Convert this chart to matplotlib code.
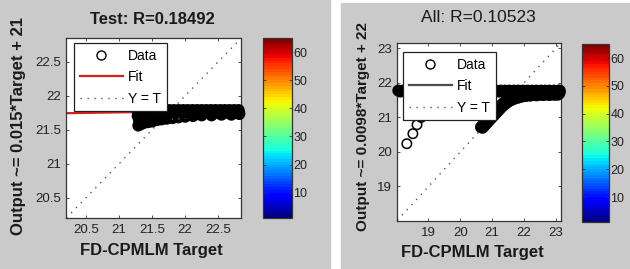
import numpy as np
import matplotlib
matplotlib.use('Agg')
import matplotlib.pyplot as plt
from matplotlib.patches import Rectangle
from matplotlib.lines import Line2D
import matplotlib.colors as mcolors
import matplotlib.cm as cm

plt.rcParams['font.family'] = ['Liberation Sans', 'DejaVu Sans']

# ---- Test panel data ----
test_target = [21.27, 21.34, 21.41, 21.48, 21.55, 21.62, 21.69, 21.76, 21.83, 21.90, 21.97, 22.04,
               22.11, 22.18, 22.25, 22.32, 22.39, 22.46, 22.53, 22.60, 22.67, 22.74, 22.81,
               21.30, 21.37, 21.44, 21.51, 21.58, 21.65, 21.72, 21.79, 21.86, 21.93, 22.00, 22.07,
               22.14, 22.21, 22.28, 22.35, 22.42, 22.49, 22.56, 22.63, 22.70, 22.77, 22.82,
               21.28, 21.35, 21.42, 21.49, 21.56, 21.63,
               21.30, 21.37, 21.45, 21.53,
               21.29, 21.33, 21.38, 21.44, 21.50, 21.57, 21.64, 21.72, 21.81, 21.90, 22.00, 22.12,
               22.25, 22.40, 22.55, 22.70, 22.82]
test_output = [21.79, 21.79, 21.79, 21.79, 21.79, 21.79, 21.79, 21.79, 21.79, 21.79, 21.79, 21.79,
               21.79, 21.79, 21.79, 21.79, 21.79, 21.79, 21.79, 21.79, 21.79, 21.79, 21.79,
               21.74, 21.74, 21.75, 21.75, 21.75, 21.75, 21.75, 21.75, 21.75, 21.75, 21.75, 21.75,
               21.75, 21.75, 21.75, 21.75, 21.75, 21.75, 21.75, 21.75, 21.75, 21.75, 21.75,
               21.70, 21.69, 21.70, 21.70, 21.71, 21.71,
               21.64, 21.65, 21.66, 21.67,
               21.56, 21.58, 21.60, 21.61, 21.62, 21.64, 21.65, 21.66, 21.67, 21.68, 21.69, 21.70,
               21.71, 21.71, 21.72, 21.72, 21.73]
test_fit = (0.015, 21.44)
test_lim = (20.2, 22.85)
test_ticks = [20.5, 21, 21.5, 22, 22.5]
test_ticklabels = ['20.5', '21', '21.5', '22', '22.5']

# ---- All panel data: dense band + the sparse tail at lower left ----
all_target = [18.05, 18.19, 18.33, 18.47, 18.61, 18.75, 18.89, 19.03, 19.17, 19.31, 19.45, 19.59,
              19.73, 19.87, 20.01, 20.15, 20.29, 20.43, 20.57, 20.71, 20.85, 20.99, 21.13, 21.27,
              21.41, 21.55, 21.69, 21.83, 21.97, 22.11, 22.25, 22.39, 22.53, 22.67, 22.81, 22.95,
              23.09, 23.13,
              18.12, 18.26, 18.40, 18.54, 18.68, 18.82, 18.96, 19.10, 19.24, 19.38, 19.52, 19.66,
              19.80, 19.94, 20.08, 20.22, 20.36, 20.50, 20.64, 20.78, 20.92, 21.06, 21.20, 21.34,
              21.48, 21.62, 21.76, 21.90, 22.04, 22.18, 22.32, 22.46, 22.60, 22.74, 22.88, 23.02,
              23.13,
              21.60, 21.74, 21.88, 22.02, 22.16, 22.30, 22.44, 22.58, 22.72, 22.86, 23.00, 23.12,
              21.67, 21.81, 21.95, 22.09, 22.23, 22.37, 22.51, 22.65, 22.79, 22.93, 23.07,
              20.65, 20.71, 20.77, 20.83, 20.89, 20.95, 21.01, 21.07, 21.13, 21.19, 21.25, 21.31,
              21.38, 21.45, 21.53, 21.62, 21.72,
              20.70, 20.76, 20.82, 20.88, 20.94, 21.00, 21.06, 21.12, 21.18, 21.24, 21.30, 21.37,
              21.44, 21.52, 21.60, 21.70, 21.81, 21.93, 22.06, 22.20, 22.40, 22.60, 22.80, 23.00]
all_output = [21.78, 21.78, 21.78, 21.78, 21.78, 21.78, 21.78, 21.78, 21.78, 21.78, 21.78, 21.78,
              21.78, 21.78, 21.78, 21.78, 21.78, 21.78, 21.78, 21.78, 21.78, 21.78, 21.78, 21.78,
              21.78, 21.78, 21.78, 21.78, 21.78, 21.78, 21.78, 21.78, 21.78, 21.78, 21.78, 21.78,
              21.78, 21.78,
              21.75, 21.75, 21.75, 21.75, 21.75, 21.75, 21.75, 21.75, 21.75, 21.75, 21.75, 21.75,
              21.75, 21.75, 21.75, 21.75, 21.75, 21.75, 21.75, 21.75, 21.75, 21.75, 21.75, 21.75,
              21.75, 21.75, 21.75, 21.75, 21.75, 21.75, 21.75, 21.75, 21.75, 21.75, 21.75, 21.75,
              21.75,
              21.70, 21.70, 21.70, 21.70, 21.70, 21.70, 21.70, 21.70, 21.70, 21.70, 21.70, 21.70,
              21.66, 21.66, 21.66, 21.66, 21.66, 21.66, 21.66, 21.66, 21.66, 21.66, 21.66,
              20.72, 20.78, 20.84, 20.90, 20.96, 21.02, 21.08, 21.14, 21.20, 21.26, 21.32, 21.38,
              21.44, 21.49, 21.54, 21.58, 21.61,
              20.70, 20.76, 20.82, 20.88, 20.94, 21.00, 21.06, 21.12, 21.18, 21.24, 21.30, 21.36,
              21.41, 21.46, 21.50, 21.54, 21.57, 21.60, 21.62, 21.63, 21.64, 21.65, 21.65, 21.66]
all_tail_target = [18.32, 18.51, 18.64, 18.77, 18.92, 19.08, 19.26, 19.45]
all_tail_output = [20.24, 20.53, 20.79, 21.00, 21.17, 21.33, 21.48, 21.60]
all_fit = (0.0098, 21.55)
all_lim = (18.02, 23.16)
all_ticks = [19, 20, 21, 22, 23]
all_ticklabels = ['19', '20', '21', '22', '23']

cbar_ticks = [10, 20, 30, 40, 50, 60]

W, H = 630, 269
panel_gray = '#cacaca'

fig = plt.figure(figsize=(6.3, 2.69), dpi=100, facecolor='white')

def px(x0, y0, x1, y1):
    # pixel box (from top-left) -> figure fraction rect
    return [x0 / W, 1 - y1 / H, (x1 - x0) / W, (y1 - y0) / H]

fig.add_artist(Rectangle((0, 0), 330 / W, 1, transform=fig.transFigure,
                         color=panel_gray, zorder=-2))
fig.add_artist(Rectangle((341 / W, 0), (W - 341) / W, 1 - 3 / H, transform=fig.transFigure,
                         color=panel_gray, zorder=-2))


def draw_panel(ax_box, cb_box, groups, fit, lim, ticks, ticklabels,
               fit_color, legend_anchor, xlim=None, ylim=None):
    ax = fig.add_axes(px(*ax_box))
    ax.set_facecolor('white')
    xl = xlim or lim
    yl = ylim or lim
    line_x = np.array(lim)
    ax.plot(line_x, fit[0] * line_x + fit[1], color=fit_color, lw=1.6, zorder=2)
    ax.plot(line_x, line_x, color='#555555', lw=1.0, linestyle=(0, (1, 4)), zorder=2)
    # dense part drawn with heavy rings so the overlap reads as solid black
    for tx, ty, size, lw in groups:
        ax.scatter(tx, ty, s=size, facecolors='none', edgecolors='black',
                   linewidths=lw, zorder=3, clip_on=False)
    ax.set_xlim(xl)
    ax.set_ylim(yl)
    ax.set_xticks(ticks)
    ax.set_xticklabels(ticklabels)
    ax.set_yticks(ticks)
    ax.set_yticklabels(ticklabels)
    ax.tick_params(direction='in', top=True, right=True, length=2.5, width=0.6,
                   labelsize=9.5, labelcolor='#222222', color='#333333')
    ax.tick_params(axis='x', pad=4)
    ax.tick_params(axis='y', pad=4)
    for s in ax.spines.values():
        s.set_color('#333333')
        s.set_linewidth(0.9)

    handles = [
        Line2D([], [], marker='o', ls='none', markerfacecolor='none',
               markeredgecolor='black', markersize=6.5, markeredgewidth=1.0),
        Line2D([], [], color=fit_color, lw=1.6),
        Line2D([], [], color='#555555', lw=1.0, linestyle=(0, (1, 4))),
    ]
    leg = ax.legend(handles, ['Data', 'Fit', 'Y = T'], loc='upper left',
                    bbox_to_anchor=legend_anchor, borderaxespad=0, fontsize=10,
                    handlelength=3.1, handletextpad=0.4, labelspacing=0.55,
                    borderpad=0.4, fancybox=False, framealpha=1, edgecolor='#222222')
    leg.get_frame().set_linewidth(0.9)
    leg.set_zorder(5)

    cax = fig.add_axes(px(*cb_box))
    sm = cm.ScalarMappable(norm=mcolors.Normalize(1, 65), cmap=plt.get_cmap('jet', 64))
    cb = fig.colorbar(sm, cax=cax, ticks=cbar_ticks)
    cb.outline.set_edgecolor('#333333')
    cb.outline.set_linewidth(0.9)
    cax.tick_params(direction='in', length=2, width=0.6, labelsize=9, pad=1,
                    labelcolor='#222222', color='#333333', left=True)
    return ax


draw_panel((66.3, 38, 241.3, 218), (263, 38, 292, 218),
           [(test_target, test_output, 32, 2.9)],
           test_fit, test_lim, test_ticks, test_ticklabels, '#d62020', (0.044, 0.972))
draw_panel((397.3, 43.3, 560.7, 221), (582, 44.3, 609, 222),
           [(all_target, all_output, 32, 2.9), (all_tail_target, all_tail_output, 46, 1.1)],
           all_fit, all_lim, all_ticks, all_ticklabels, '#4d4d4d', (0.035, 0.951),
           xlim=(18.02, 23.16), ylim=(18.0, 23.15))

fig.text(152 / W, 1 - 19 / H, 'Test: R=0.18492', ha='center', va='center',
         fontsize=12, fontweight='bold', color='#1a1a1a')
fig.text(478 / W, 1 - 18 / H, 'All: R=0.10523', ha='center', va='center',
         fontsize=12.5, color='#1a1a1a')
fig.text(151.5 / W, 1 - 250 / H, 'FD-CPMLM Target', ha='center', va='center',
         fontsize=12, fontweight='bold', color='#1a1a1a')
fig.text(472 / W, 1 - 252 / H, 'FD-CPMLM Target', ha='center', va='center',
         fontsize=12, fontweight='bold', color='#1a1a1a')
fig.text(19 / W, 1 - 125.7 / H, 'Output ~= 0.015*Target + 21', ha='center', va='center',
         rotation=90, fontsize=12, fontweight='bold', color='#1a1a1a')
fig.text(363.5 / W, 1 - 126.7 / H, 'Output ~= 0.0098*Target + 22', ha='center', va='center',
         rotation=90, fontsize=11, fontweight='bold', color='#1a1a1a')

fig.savefig('out.png', dpi=100, facecolor='white')
